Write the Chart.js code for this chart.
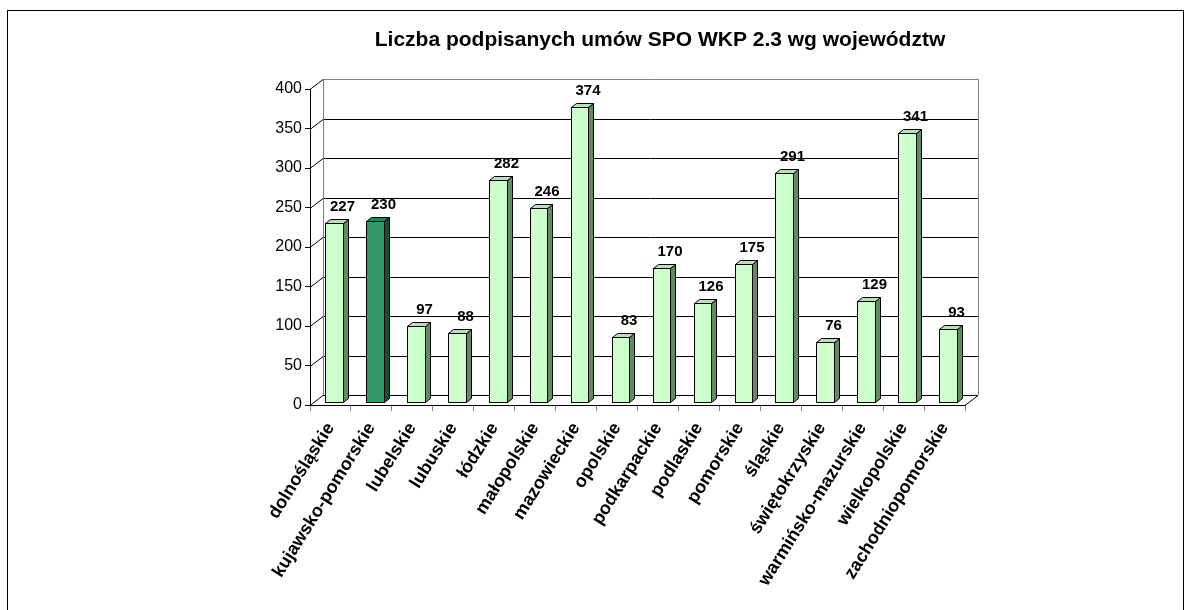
<!DOCTYPE html>
<html>
<head>
<meta charset="utf-8">
<script src="https://cdn.jsdelivr.net/npm/chart.js@4"></script>
<style>
  html, body { margin: 0; padding: 0; background: #fff; }
  canvas { display: block; }
</style>
</head>
<body>
<canvas id="chart" width="1190" height="610"></canvas>
<script>
const titleText = "Liczba podpisanych umów SPO WKP 2.3 wg województw";
const categories = [
    "dolnośląskie", "kujawsko-pomorskie", "lubelskie", "lubuskie", "łódzkie",
    "małopolskie", "mazowieckie", "opolskie", "podkarpackie", "podlaskie",
    "pomorskie", "śląskie", "świętokrzyskie", "warmińsko-mazurskie",
    "wielkopolskie", "zachodniopomorskie"
];
const values = [227, 230, 97, 88, 282, 246, 374, 83, 170, 126, 175, 291, 76, 129, 341, 93];
const highlighted = ["kujawsko-pomorskie"];
const yMin = 0, yMax = 400, yStep = 50;

// 3D look
const wallDx = 13, wallDy = -10;   // back wall offset
const barFx = 3.5, barFy = -2.5;   // bar front face offset from front plane
const barDx = 5, barDy = -4;       // bar depth
const normalColors = { front: "#ccffcc", top: "#b6e3b6", side: "#668866" };
const hiColors = { front: "#339966", top: "#2a7f55", side: "#1b4d33" };

const fontFamily = "Arial, 'Liberation Sans', sans-serif";

const wallPlugin = {
    id: "wall3d",
    beforeDatasetsDraw(chart) {
        const ctx = chart.ctx;
        const { left, right, top, bottom } = chart.chartArea;
        const y = chart.scales.y;
        ctx.save();
        ctx.lineWidth = 1;
        // grid lines on back wall + left wall diagonals
        y.ticks.forEach(t => {
            const py = Math.round(y.getPixelForValue(t.value)) + 0.5;
            ctx.strokeStyle = t.value === yMax ? "#808080" : "#000";
            ctx.beginPath();
            ctx.moveTo(left + wallDx, py + wallDy);
            ctx.lineTo(right + wallDx, py + wallDy);
            ctx.stroke();
            ctx.strokeStyle = "#000";
            ctx.beginPath();
            ctx.moveTo(left, py);
            ctx.lineTo(left + wallDx, py + wallDy);
            ctx.stroke();
        });
        // wall edges
        ctx.strokeStyle = "#808080";
        ctx.beginPath();
        ctx.moveTo(left + wallDx + 0.5, top + wallDy);
        ctx.lineTo(left + wallDx + 0.5, bottom + wallDy);
        ctx.moveTo(right + wallDx + 0.5, top + wallDy);
        ctx.lineTo(right + wallDx + 0.5, bottom + wallDy);
        ctx.stroke();
        // floor right edge
        ctx.strokeStyle = "#000";
        ctx.beginPath();
        ctx.moveTo(right, Math.round(bottom) + 0.5);
        ctx.lineTo(right + wallDx, Math.round(bottom) + 0.5 + wallDy);
        ctx.stroke();
        ctx.restore();
    },
    afterDatasetsDraw(chart) {
        const ctx = chart.ctx;
        const meta = chart.getDatasetMeta(0);
        ctx.save();
        ctx.lineWidth = 1;
        ctx.strokeStyle = "#000";
        ctx.lineJoin = "miter";
        meta.data.forEach((bar, i) => {
            const c = highlighted.includes(categories[i]) ? hiColors : normalColors;
            const x0 = Math.round(bar.x - bar.width / 2 + barFx) + 0.5;
            const x1 = Math.round(bar.x + bar.width / 2 + barFx) + 0.5;
            const yt = Math.round(bar.y + barFy) + 0.5;
            const yb = Math.round(bar.base + barFy) + 0.5;
            // side
            ctx.fillStyle = c.side;
            ctx.beginPath();
            ctx.moveTo(x1, yt);
            ctx.lineTo(x1 + barDx, yt + barDy);
            ctx.lineTo(x1 + barDx, yb + barDy);
            ctx.lineTo(x1, yb);
            ctx.closePath();
            ctx.fill(); ctx.stroke();
            // top
            ctx.fillStyle = c.top;
            ctx.beginPath();
            ctx.moveTo(x0, yt);
            ctx.lineTo(x0 + barDx, yt + barDy);
            ctx.lineTo(x1 + barDx, yt + barDy);
            ctx.lineTo(x1, yt);
            ctx.closePath();
            ctx.fill(); ctx.stroke();
            // front
            ctx.fillStyle = c.front;
            ctx.fillRect(x0, yt, x1 - x0, yb - yt);
            ctx.strokeRect(x0, yt, x1 - x0, yb - yt);
            // value label
            ctx.fillStyle = "#000";
            ctx.font = "bold 15px " + fontFamily;
            ctx.textAlign = "center";
            ctx.textBaseline = "bottom";
            ctx.fillText(String(values[i]), (x0 + x1) / 2 + 8, yt - 9);
        });
        ctx.restore();
    },
    afterDraw(chart) {
        const ctx = chart.ctx;
        ctx.save();
        ctx.strokeStyle = "#000";
        ctx.lineWidth = 1;
        ctx.strokeRect(7.5, 10.5, 1176, 700);
        ctx.fillStyle = "#000";
        ctx.font = "bold 21px " + fontFamily;
        ctx.textAlign = "center";
        ctx.textBaseline = "middle";
        ctx.fillText(titleText, 660, 40);
        ctx.restore();
    }
};

new Chart(document.getElementById("chart"), {
    type: "bar",
    data: {
        labels: categories,
        datasets: [{
            data: values,
            backgroundColor: "rgba(0,0,0,0)",
            borderWidth: 0,
            barPercentage: 0.43,
            categoryPercentage: 1
        }]
    },
    options: {
        responsive: false,
        animation: false,
        devicePixelRatio: 1,
        layout: { padding: { top: 89, right: 225, left: 0, bottom: 0 } },
        plugins: {
            legend: { display: false },
            title: { display: false },
            tooltip: { enabled: false }
        },
        scales: {
            x: {
                grid: { offset: true, drawOnChartArea: false, tickLength: 6, color: "#808080" },
                border: { color: "#000" },
                ticks: {
                    minRotation: 58, maxRotation: 58, autoSkip: false,
                    color: "#000", padding: 8,
                    font: { family: fontFamily, size: 18, weight: "bold" }
                },
                afterFit(scale) { scale.height = 205; }
            },
            y: {
                min: yMin, max: yMax,
                grid: { drawOnChartArea: false, tickLength: 5, color: "#000" },
                border: { color: "#000" },
                ticks: {
                    stepSize: yStep, color: "#000", padding: 3,
                    font: { family: fontFamily, size: 16 }
                },
                afterFit(scale) { scale.width = 310; }
            }
        }
    },
    plugins: [wallPlugin]
});
</script>
</body>
</html>
